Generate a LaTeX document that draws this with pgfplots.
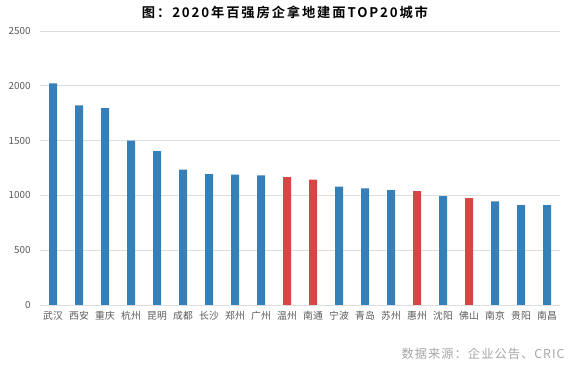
\documentclass[border=0pt]{standalone}
\usepackage{pgfplots}
\pgfplotsset{compat=1.18}
\usepackage{fontspec}
\setmainfont{Noto Sans CJK SC}
\newfontfamily\titlefont[LetterSpace=14]{Noto Sans CJK SC Bold}
\newfontfamily\srcfont[LetterSpace=8]{Noto Sans CJK SC}
\definecolor{barblue}{HTML}{3580B8}
\definecolor{barred}{HTML}{D44744}
\definecolor{gridc}{HTML}{DEDEDE}
\definecolor{tickc}{HTML}{595959}
\definecolor{srcc}{HTML}{A6A6A6}
\begin{document}
\begin{tikzpicture}[x=1pt,y=1pt]
\path[use as bounding box] (0,0) rectangle (570,366);
\begin{axis}[
  at={(40pt,61pt)}, anchor=south west,
  scale only axis, width=520pt, height=274pt,
  xmin=-0.5, xmax=19.5, ymin=0, ymax=2500,
  ytick={0,500,1000,1500,2000,2500},
  xtick={0,...,19},
  xticklabels={武汉,西安,重庆,杭州,昆明,成都,长沙,郑州,广州,温州,南通,宁波,青岛,苏州,惠州,沈阳,佛山,南京,贵阳,南昌},
  axis line style={draw=none},
  major tick length=0pt,
  ymajorgrids, grid style={gridc, line width=0.8pt},
  tick label style={font=\fontsize{9.8}{10}\selectfont, text=tickc},
  /pgf/number format/assume math mode=true,
  /pgf/number format/1000 sep={},
  yticklabel style={xshift=-6pt},
  xticklabel style={yshift=-3pt},
  ybar, bar width=8pt, bar shift=0pt,
  clip=false,
]
\addplot[fill=barblue, draw=none] coordinates {
(0,2023) (1,1822) (2,1796) (3,1500) (4,1403) (5,1236) (6,1195) (7,1189) (8,1183)
(11,1080) (12,1064) (13,1049) (15,994) (17,945) (18,911) (19,911)};
\addplot[fill=barred, draw=none] coordinates {
(9,1166) (10,1143) (14,1040) (16,976)};
\end{axis}
\node[font=\fontsize{13.3}{14}\titlefont] at (285,354) {图：2020年百强房企拿地建面TOP20城市};
\node[anchor=east, font=\fontsize{12.3}{13}\srcfont, text=srcc] at (568,12) {数据来源：企业公告、CRIC};
\end{tikzpicture}
\end{document}
